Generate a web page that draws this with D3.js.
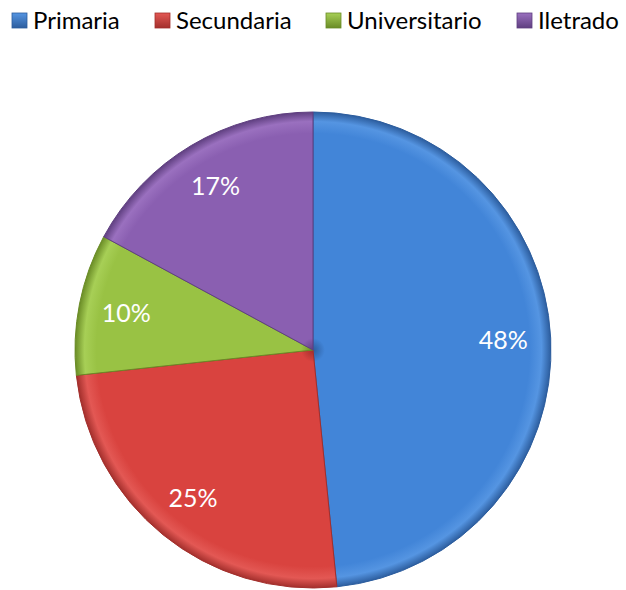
<!DOCTYPE html>
<html>
<head>
<meta charset="utf-8">
<script src="https://cdn.jsdelivr.net/npm/d3@7"></script>
<style>
  body { margin: 0; background: #fff; }
  text { font-family: Lato, "Open Sans", sans-serif; }
</style>
</head>
<body>
<svg id="chart"></svg>
<script>
var w = 626;
var h = 590;

// data
var categories = ["Primaria", "Secundaria", "Universitario", "Iletrado"];
var values = [48.4, 24.9, 9.6, 17.1];
var colors = ["#4285d8", "#d9433f", "#99c244", "#8a5fb1"];
var darks = ["#2c5d9e", "#a32f2c", "#6a8c26", "#5f3f80"];
var lights = ["#5595e2", "#e35854", "#a7cf56", "#9a70bf"];

var cx = 313, cy = 350, R = 238;

var svg = d3.select("#chart")
    .attr("width", w)
    .attr("height", h);

var defs = svg.append("defs");

// radial shading per slice, to fake the bevel look
categories.forEach(function(c, i) {
    var g = defs.append("radialGradient")
        .attr("id", "grad" + i)
        .attr("gradientUnits", "userSpaceOnUse")
        .attr("cx", 0).attr("cy", 0).attr("r", R);
    g.append("stop").attr("offset", "0%").attr("stop-color", darks[i]);
    g.append("stop").attr("offset", "5%").attr("stop-color", colors[i]);
    g.append("stop").attr("offset", "91%").attr("stop-color", colors[i]);
    g.append("stop").attr("offset", "96%").attr("stop-color", lights[i]);
    g.append("stop").attr("offset", "100%").attr("stop-color", darks[i]);

    var lg = defs.append("linearGradient")
        .attr("id", "leg" + i)
        .attr("x1", 0).attr("y1", 0).attr("x2", 0).attr("y2", 1);
    lg.append("stop").attr("offset", "0%").attr("stop-color", lights[i]);
    lg.append("stop").attr("offset", "100%").attr("stop-color", darks[i]);
});

var pie = d3.pie().sort(null).value(function(d) { return d; });
var arcs = pie(values);

var arc = d3.arc().innerRadius(0).outerRadius(R);
var labelArc = d3.arc().innerRadius(R * 0.8).outerRadius(R * 0.8);

var pieG = svg.append("g")
    .attr("transform", "translate(" + cx + "," + cy + ")");

pieG.selectAll("path.slice")
    .data(arcs)
    .enter().append("path")
    .attr("class", "slice")
    .attr("d", arc)
    .attr("fill", function(d, i) { return "url(#grad" + i + ")"; })
    .attr("stroke", function(d, i) { return darks[i]; })
    .attr("stroke-width", 1)
    .attr("stroke-linejoin", "round");

pieG.selectAll("text.lbl")
    .data(arcs)
    .enter().append("text")
    .attr("class", "lbl")
    .attr("transform", function(d) { return "translate(" + labelArc.centroid(d) + ")"; })
    .attr("text-anchor", "middle")
    .attr("dy", "0.35em")
    .attr("fill", "#fff")
    .style("font-size", "25px")
    .text(function(d) { return Math.round(d.value) + "%"; });

// legend
var legX = [12, 155, 326, 517];
var legend = svg.append("g");
var item = legend.selectAll("g")
    .data(categories)
    .enter().append("g")
    .attr("transform", function(d, i) { return "translate(" + legX[i] + ",13)"; });

item.append("rect")
    .attr("width", 15)
    .attr("height", 15)
    .attr("fill", function(d, i) { return "url(#leg" + i + ")"; })
    .attr("stroke", function(d, i) { return darks[i]; })
    .attr("stroke-width", 0.8);

item.append("text")
    .attr("x", 21)
    .attr("y", 16)
    .attr("fill", "#000")
    .style("font-size", "24px")
    .text(function(d) { return d; });
</script>
</body>
</html>
